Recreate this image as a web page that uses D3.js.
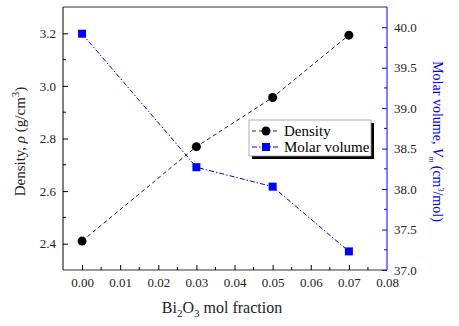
<!DOCTYPE html>
<html>
<head>
<meta charset="utf-8">
<script src="https://cdn.jsdelivr.net/npm/d3@7"></script>
<style>
body { margin: 0; background: #fff; }
svg text { font-family: "Liberation Serif", "Times New Roman", Times, "DejaVu Serif", serif !important; }
</style>
</head>
<body>
<svg id="chart" width="459" height="326"></svg>
<script>
var fraction = [0.00, 0.03, 0.05, 0.07];
var density = [2.41, 2.769, 2.956, 3.193];
var molarVolume = [39.92, 38.27, 38.03, 37.23];
var xTicks = [0.00, 0.01, 0.02, 0.03, 0.04, 0.05, 0.06, 0.07, 0.08];
var leftTicks = [2.4, 2.6, 2.8, 3.0, 3.2];
var rightTicks = [37.0, 37.5, 38.0, 38.5, 39.0, 39.5, 40.0];

var svg = d3.select("#chart"),
	margin = {top: 7, left: 63, bottom: 56, right: 72},
	width = +svg.attr("width"),
	height = +svg.attr("height");

var x = d3.scaleLinear()
	.domain([-0.005, 0.08])
	.range([margin.left, width - margin.right]);

var yL = d3.scaleLinear()
	.domain([2.3, 3.3])
	.range([height - margin.bottom, margin.top]);

var yR = d3.scaleLinear()
	.domain([37.0, 40.25])
	.range([height - margin.bottom, margin.top]);

var blue = "#0000ff";
var bottom = height - margin.bottom;

// frame
svg.append("line").attr("x1", margin.left).attr("x2", width - margin.right)
	.attr("y1", margin.top).attr("y2", margin.top).attr("stroke", "#333");

// x axis (ticks inward)
var xAxis = svg.append("g")
	.attr("transform", `translate(0,${bottom})`)
	.call(d3.axisBottom(x).tickValues(xTicks).tickSize(-5).tickFormat(d3.format(".2f")).tickPadding(8));
xAxis.selectAll("g.tick").filter(d => d > 0.079).select("line").remove();
xAxis.append("g").selectAll("line")
	.data(d3.range(8).map(i => 0.005 + i * 0.01))
	.enter().append("line")
	.attr("x1", d => x(d)).attr("x2", d => x(d))
	.attr("y1", 0).attr("y2", -3).attr("stroke", "#000");
xAxis.select(".domain").attr("d", `M${margin.left},0H${width - margin.right}`).attr("stroke", "#333");

// left axis
var yAxisL = svg.append("g")
	.attr("transform", `translate(${margin.left},0)`)
	.call(d3.axisLeft(yL).tickValues(leftTicks).tickSize(-5).tickFormat(d3.format(".1f")).tickPadding(7));
yAxisL.append("g").selectAll("line")
	.data([2.5, 2.7, 2.9, 3.1])
	.enter().append("line")
	.attr("x1", 0).attr("x2", 3)
	.attr("y1", d => yL(d)).attr("y2", d => yL(d)).attr("stroke", "#000");
yAxisL.select(".domain").attr("d", `M0,${margin.top}V${bottom}`).attr("stroke", "#000");

// right axis
var yAxisR = svg.append("g")
	.attr("transform", `translate(${width - margin.right},0)`)
	.call(d3.axisRight(yR).tickValues(rightTicks).tickSize(-5).tickFormat(d3.format(".1f")).tickPadding(7));
yAxisR.selectAll("g.tick line").attr("stroke", blue);
yAxisR.append("g").selectAll("line")
	.data([37.25, 37.75, 38.25, 38.75, 39.25, 39.75])
	.enter().append("line")
	.attr("x1", 0).attr("x2", -3)
	.attr("y1", d => yR(d)).attr("y2", d => yR(d)).attr("stroke", blue);
yAxisR.select(".domain").attr("d", `M0,${margin.top}V${bottom}`).attr("stroke", blue);

svg.selectAll("g").attr("font-family", null);
svg.selectAll(".tick text").attr("font-size", 13).attr("fill", "#222");

// lines
var densLine = d3.line().x((d, i) => x(fraction[i])).y(d => yL(d));
var molLine = d3.line().x((d, i) => x(fraction[i])).y(d => yR(d));

svg.append("path").attr("d", densLine(density))
	.attr("fill", "none").attr("stroke", "#222").attr("stroke-width", 1)
	.attr("stroke-dasharray", "4,3");
svg.append("path").attr("d", molLine(molarVolume))
	.attr("fill", "none").attr("stroke", blue).attr("stroke-width", 1)
	.attr("stroke-dasharray", "5,2,1.5,2");

svg.selectAll(".dot").data(density).enter().append("circle")
	.attr("class", "dot")
	.attr("cx", (d, i) => x(fraction[i])).attr("cy", d => yL(d))
	.attr("r", 4.5).attr("fill", "#000");
svg.selectAll(".sq").data(molarVolume).enter().append("rect")
	.attr("class", "sq")
	.attr("x", (d, i) => x(fraction[i]) - 4).attr("y", d => yR(d) - 4)
	.attr("width", 8).attr("height", 8).attr("fill", blue);

// legend
var lg = svg.append("g").attr("transform", "translate(249,120)");
lg.append("rect").attr("x", 3).attr("y", 3).attr("width", 122).attr("height", 36).attr("fill", "#000");
lg.append("rect").attr("x", 0).attr("y", 0).attr("width", 122).attr("height", 36)
	.attr("fill", "#fff").attr("stroke", "#999").attr("stroke-width", 0.8);
lg.append("line").attr("x1", 3).attr("x2", 30).attr("y1", 11).attr("y2", 11)
	.attr("stroke", "#222").attr("stroke-dasharray", "4,3");
lg.append("circle").attr("cx", 17).attr("cy", 11).attr("r", 4.5).attr("fill", "#000");
lg.append("text").attr("x", 35).attr("y", 16).attr("font-size", 15).text("Density");
lg.append("line").attr("x1", 3).attr("x2", 30).attr("y1", 27).attr("y2", 27)
	.attr("stroke", blue).attr("stroke-dasharray", "5,2,1.5,2");
lg.append("rect").attr("x", 13).attr("y", 23).attr("width", 8).attr("height", 8).attr("fill", blue);
lg.append("text").attr("x", 35).attr("y", 32).attr("font-size", 15).text("Molar volume");

// axis titles
var xt = svg.append("text")
	.attr("x", (margin.left + width - margin.right) / 2 - 3).attr("y", 313)
	.attr("text-anchor", "middle").attr("font-size", 16).attr("fill", "#222");
xt.append("tspan").text("Bi");
xt.append("tspan").attr("dy", 4).attr("font-size", 11).text("2");
xt.append("tspan").attr("dy", -4).text("O");
xt.append("tspan").attr("dy", 4).attr("font-size", 11).text("3");
xt.append("tspan").attr("dy", -4).text(" mol fraction");

var lt = svg.append("text")
	.attr("transform", `translate(25,${(margin.top + bottom) / 2 + 3}) rotate(-90)`)
	.attr("text-anchor", "middle").attr("font-size", 15).attr("fill", "#222");
lt.append("tspan").text("Density, ");
lt.append("tspan").attr("font-style", "italic").text("ρ");
lt.append("tspan").text(" (g/cm");
lt.append("tspan").attr("dy", -6).attr("font-size", 11).text("3");
lt.append("tspan").attr("dy", 6).text(")");

var rt = svg.append("text")
	.attr("transform", `translate(433,${(margin.top + bottom) / 2 + 3}) rotate(90)`)
	.attr("text-anchor", "middle").attr("font-size", 14).attr("fill", blue);
rt.append("tspan").text("Molar volume, ");
rt.append("tspan").attr("font-style", "italic").text("V");
rt.append("tspan").attr("dy", 4).attr("font-size", 8).attr("font-style", "italic").text("m");
rt.append("tspan").attr("dy", -4).text(" (cm");
rt.append("tspan").attr("dy", -5).attr("font-size", 8).text("3");
rt.append("tspan").attr("dy", 5).text("/mol)");
</script>
</body>
</html>
